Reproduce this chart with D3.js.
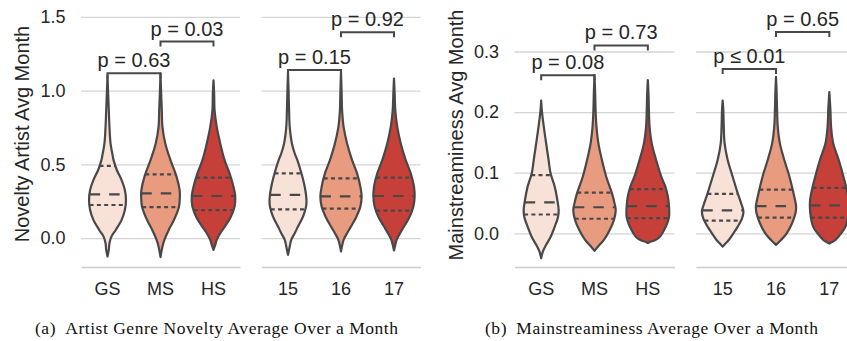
<!DOCTYPE html>
<html>
<head>
<meta charset="utf-8">
<script src="https://cdn.jsdelivr.net/npm/d3@7"></script>
<style>
  body { margin: 0; background: #fff; }
  svg { display: block; }
</style>
</head>
<body>
<div id="chart"></div>
<script>
// categories
const schoolGroups = ["GS", "MS", "HS"];
const ageGroups = ["15", "16", "17"];

// y tick values
const noveltyTicks = [0, 0.5, 1.0, 1.5];
const mainTicks = [0, 0.1, 0.2, 0.3];

// violin outlines: [value, relative half width]
const novGS = [[1.103,0],[0.98,0.03],[0.867,0.06],[0.754,0.09],[0.642,0.14],[0.574,0.22],[0.529,0.28],[0.462,0.43],[0.394,0.65],[0.327,0.8],[0.259,0.85],[0.191,0.8],[0.124,0.65],[0.056,0.38],[0.011,0.18],[-0.034,0.09],[-0.079,0.06],[-0.124,0]];
const novMS = [[1.116,0],[0.98,0.03],[0.867,0.06],[0.754,0.09],[0.642,0.22],[0.529,0.46],[0.416,0.74],[0.327,0.88],[0.282,0.89],[0.214,0.85],[0.124,0.62],[0.056,0.38],[-0.011,0.18],[-0.056,0.09],[-0.128,0]];
const novHS = [[1.07,0],[0.98,0.03],[0.867,0.05],[0.754,0.15],[0.642,0.31],[0.529,0.51],[0.439,0.74],[0.349,0.92],[0.282,1.0],[0.214,0.97],[0.146,0.8],[0.079,0.52],[0.034,0.31],[-0.011,0.15],[-0.045,0.08],[-0.079,0]];
const nov15 = [[1.126,0],[0.98,0.03],[0.867,0.05],[0.754,0.08],[0.642,0.18],[0.574,0.31],[0.529,0.43],[0.439,0.62],[0.349,0.77],[0.259,0.85],[0.214,0.83],[0.146,0.69],[0.079,0.46],[0.034,0.31],[-0.011,0.15],[-0.056,0.08],[-0.113,0]];
const nov16 = [[1.126,0],[0.98,0.03],[0.867,0.05],[0.754,0.12],[0.642,0.28],[0.529,0.51],[0.439,0.74],[0.349,0.89],[0.282,0.95],[0.214,0.89],[0.146,0.71],[0.079,0.46],[0.034,0.28],[-0.011,0.12],[-0.045,0.06],[-0.09,0]];
const nov17 = [[1.081,0],[0.98,0.03],[0.867,0.06],[0.754,0.15],[0.642,0.31],[0.529,0.54],[0.439,0.77],[0.349,0.92],[0.282,0.95],[0.214,0.89],[0.146,0.72],[0.079,0.46],[0.034,0.28],[-0.011,0.12],[-0.045,0.06],[-0.083,0]];

const mainGS = [[0.219,0],[0.203,0.03],[0.176,0.12],[0.148,0.23],[0.121,0.34],[0.099,0.43],[0.077,0.62],[0.055,0.74],[0.038,0.8],[0.027,0.77],[0.011,0.62],[-0.006,0.43],[-0.022,0.18],[-0.03,0.08],[-0.041,0]];
const mainMS = [[0.261,0],[0.231,0.03],[0.203,0.05],[0.176,0.09],[0.148,0.18],[0.121,0.34],[0.093,0.54],[0.066,0.8],[0.049,0.92],[0.038,0.97],[0.022,0.89],[0.005,0.69],[-0.011,0.43],[-0.019,0.23],[-0.029,0]];
const mainHS = [[0.253,0],[0.231,0.03],[0.203,0.05],[0.176,0.08],[0.148,0.18],[0.121,0.38],[0.093,0.62],[0.077,0.8],[0.06,0.92],[0.044,0.97],[0.027,0.97],[0.017,0.89],[0.005,0.74],[0.0,0.66],[-0.006,0.54],[-0.011,0.34],[-0.015,0.05],[-0.016,0]];
const main15 = [[0.219,0],[0.203,0.03],[0.176,0.05],[0.148,0.09],[0.121,0.23],[0.093,0.46],[0.066,0.69],[0.049,0.85],[0.036,0.95],[0.025,0.89],[0.011,0.69],[0.0,0.49],[-0.011,0.28],[-0.016,0.15],[-0.022,0]];
const main16 = [[0.258,0],[0.231,0.03],[0.203,0.05],[0.176,0.08],[0.148,0.18],[0.121,0.38],[0.093,0.62],[0.066,0.8],[0.044,0.92],[0.033,0.89],[0.017,0.74],[0.0,0.49],[-0.011,0.23],[-0.019,0]];
const main17 = [[0.233,0],[0.203,0.05],[0.176,0.08],[0.148,0.18],[0.121,0.43],[0.093,0.65],[0.071,0.8],[0.055,0.88],[0.044,0.89],[0.027,0.85],[0.011,0.74],[0.0,0.54],[-0.011,0.28],[-0.017,0]];

// quartiles [q1, median, q3]
const novSchoolQ = [[0.225,0.297,0.49],[0.211,0.304,0.432],[0.191,0.286,0.41]];
const novAgeQ = [[0.196,0.294,0.439],[0.2,0.284,0.405],[0.187,0.286,0.41]];
const mainSchoolQ = [[0.031,0.051,0.096],[0.024,0.043,0.067],[0.025,0.045,0.073]];
const mainAgeQ = [[0.021,0.038,0.065],[0.026,0.045,0.072],[0.026,0.046,0.075]];

// significance brackets [from, to, height, label]
const novSchoolP = [["GS","MS",1.118,"p = 0.63"],["MS","HS",1.332,"p = 0.03"]];
const novAgeP = [["15","16",1.14,"p = 0.15"],["16","17",1.395,"p = 0.92"]];
const mainSchoolP = [["GS","MS",0.261,"p = 0.08"],["MS","HS",0.31,"p = 0.73"]];
const mainAgeP = [["15","16",0.271,"p \u2264 0.01"],["16","17",0.332,"p = 0.65"]];

const width = 847, height = 341;
const bottom = 267;
const fills = ["#f8e2d8", "#e99b80", "#c73f39"];
const ink = "#484848";
const sans = "'Liberation Sans', Arial, sans-serif";

const svg = d3.select("#chart").append("svg")
    .attr("width", width)
    .attr("height", height);

const yNov = d3.scaleLinear().domain([-0.195, 1.614]).range([bottom, 0]);
const yMain = d3.scaleLinear().domain([-0.0556, 0.385]).range([bottom, 0]);

function widthAt(shape, v) {
    for (let i = 0; i < shape.length - 1; i++) {
        const a = shape[i], b = shape[i + 1];
        if (v <= a[0] && v >= b[0]) {
            const t = (a[0] - v) / (a[0] - b[0]);
            return a[1] + t * (b[1] - a[1]);
        }
    }
    return 0;
}

function drawPanel(p) {
    const x = d3.scaleBand().domain(p.cats).range([p.x0, p.x1]);
    const y = p.y;
    const half = x.bandwidth() * 0.41;
    const g = svg.append("g");

    // grid
    g.append("g")
        .attr("transform", `translate(${p.x0},0)`)
        .call(d3.axisLeft(y).tickValues(p.ticks).tickSize(-(p.x1 - p.x0)).tickFormat(""))
        .call(a => a.select(".domain").remove())
        .call(a => a.selectAll("line").attr("stroke", "#d4d4d4").attr("stroke-width", 1.3));

    if (p.labels) {
        g.append("g")
            .attr("transform", `translate(${p.x0},0)`)
            .call(d3.axisLeft(y).tickValues(p.ticks).tickSize(0).tickPadding(15.5).tickFormat(d3.format(".1f")))
            .call(a => a.select(".domain").remove())
            .call(a => a.selectAll("text")
                .attr("font-family", sans).attr("font-size", 18).attr("fill", "#262626"));

        svg.append("text")
            .attr("transform", `translate(${p.titleX},${p.titleY}) rotate(-90)`)
            .attr("text-anchor", "middle")
            .attr("font-family", sans)
            .attr("font-size", 20)
            .attr("fill", "#262626")
            .text(p.title);
    }

    // bottom spine + category labels
    g.append("g")
        .attr("transform", `translate(0,${bottom})`)
        .call(d3.axisBottom(x).tickSize(0).tickPadding(15))
        .call(a => a.select(".domain").attr("stroke", "#cccccc").attr("stroke-width", 1.6))
        .call(a => a.selectAll("text")
            .attr("font-family", sans).attr("font-size", 18).attr("fill", "#262626"));

    // violins
    p.cats.forEach((c, i) => {
        const cx = x(c) + x.bandwidth() / 2;
        const shape = p.shapes[i];
        const area = d3.area()
            .y(d => y(d[0]))
            .x0(d => cx - d[1] * half)
            .x1(d => cx + d[1] * half)
            .curve(d3.curveCatmullRom);

        g.append("path")
            .attr("d", area(shape))
            .attr("fill", fills[i])
            .attr("stroke", ink)
            .attr("stroke-width", 2.2)
            .attr("stroke-linejoin", "round");

        p.quart[i].forEach((q, k) => {
            const w = widthAt(shape, q) * half;
            g.append("line")
                .attr("x1", cx - w).attr("x2", cx + w)
                .attr("y1", y(q)).attr("y2", y(q))
                .attr("stroke", ink)
                .attr("stroke-width", 2.2)
                .attr("stroke-dasharray", k === 1 ? "10.5,9" : "4,3.3");
        });
    });

    // p-value brackets
    p.pvals.forEach(([a, b, h, label]) => {
        const xa = x(a) + x.bandwidth() / 2;
        const xb = x(b) + x.bandwidth() / 2;
        const yy = y(h);
        g.append("path")
            .attr("d", `M${xa},${yy + 5}V${yy}H${xb}V${yy + 5}`)
            .attr("fill", "none")
            .attr("stroke", ink)
            .attr("stroke-width", 2);
        g.append("text")
            .attr("x", (xa + xb) / 2)
            .attr("y", yy - 6)
            .attr("text-anchor", "middle")
            .attr("font-family", sans)
            .attr("font-size", 20)
            .attr("fill", "#262626")
            .text(label);
    });
}

drawPanel({cats: schoolGroups, x0: 81, x1: 240, y: yNov, ticks: noveltyTicks,
    shapes: [novGS, novMS, novHS], quart: novSchoolQ, pvals: novSchoolP,
    labels: true, title: "Novelty Artist Avg Month", titleX: 28.5, titleY: 134});
drawPanel({cats: ageGroups, x0: 261.5, x1: 420.5, y: yNov, ticks: noveltyTicks,
    shapes: [nov15, nov16, nov17], quart: novAgeQ, pvals: novAgeP, labels: false});
drawPanel({cats: schoolGroups, x0: 514.5, x1: 674.5, y: yMain, ticks: mainTicks,
    shapes: [mainGS, mainMS, mainHS], quart: mainSchoolQ, pvals: mainSchoolP,
    labels: true, title: "Mainstreaminess Avg Month", titleX: 462.5, titleY: 135});
drawPanel({cats: ageGroups, x0: 696, x1: 856, y: yMain, ticks: mainTicks,
    shapes: [main15, main16, main17], quart: mainAgeQ, pvals: mainAgeP, labels: false});

// sub-figure captions
const captions = [
    ["(a)\u2002Artist Genre Novelty Average Over a Month", 216.5, 363],
    ["(b)\u2002Mainstreaminess Average Over a Month", 651.5, 333]
];
captions.forEach(([t, cx, len]) => {
    svg.append("text")
        .attr("x", cx - len / 2)
        .attr("y", 334)
        .attr("font-family", "'Liberation Serif', 'Times New Roman', serif")
        .attr("font-size", 17.5)
        .attr("fill", "#111")
        .attr("textLength", len)
        .attr("lengthAdjust", "spacing")
        .text(t);
});
</script>
</body>
</html>
